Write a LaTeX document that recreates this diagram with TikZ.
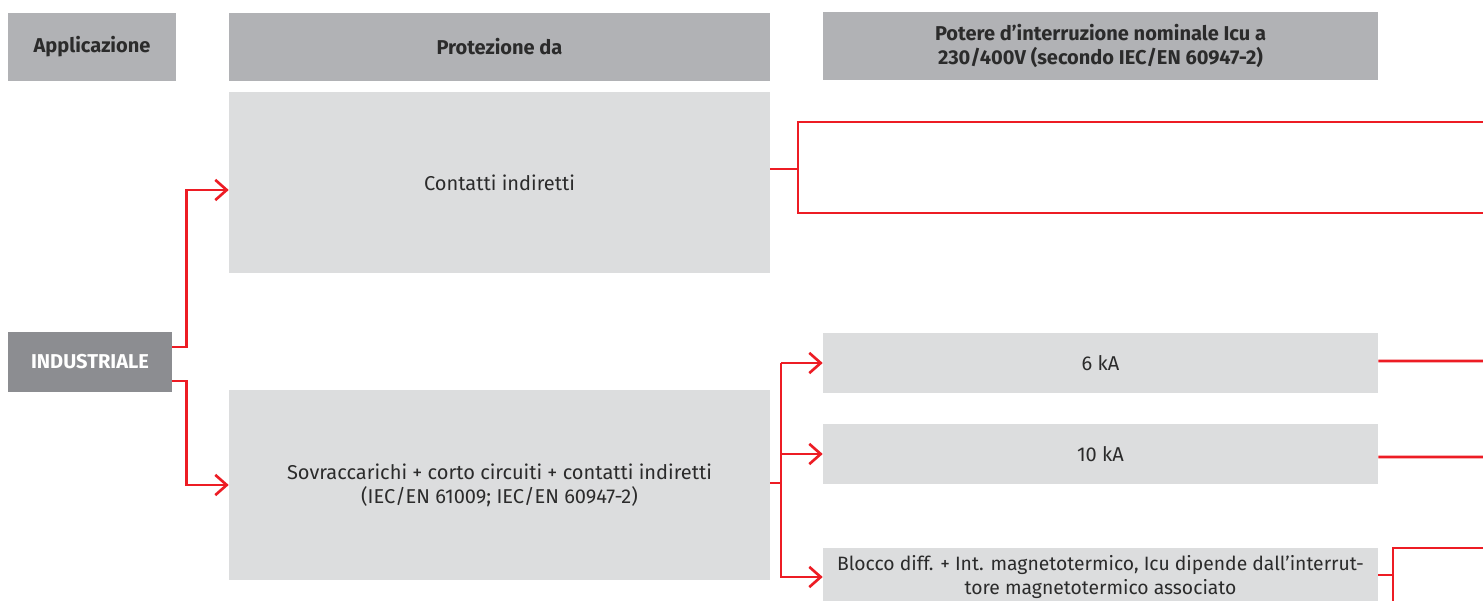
\documentclass[tikz,border=0pt]{standalone}
\usepackage{fontspec}
\setmainfont{Fira Sans}
\usetikzlibrary{arrows.meta,positioning}
\definecolor{headgray}{HTML}{B1B2B5}
\definecolor{boxgray}{HTML}{DCDDDE}
\definecolor{appgray}{HTML}{8C8D91}
\definecolor{abbred}{HTML}{ED1C24}
\definecolor{txt}{HTML}{2B2B2B}
\tikzset{
    head/.style={
    rectangle,fill=headgray,text=txt,font=\bfseries\fontsize{11.4}{13.2}\selectfont,align=center,inner sep=0pt
    },
    choice/.style={
    rectangle,fill=boxgray,text=txt,font=\fontsize{11.4}{13.6}\selectfont,align=center,inner sep=0pt
    },
    app/.style={
    rectangle,fill=appgray,text=white,font=\bfseries\fontsize{11.4}{13}\selectfont,inner sep=0pt
    },
    flow/.style={
    draw=abbred,line width=1.6pt
    },
    flowto/.style={
    flow,-{Straight Barb[length=6.5pt,width=11.5pt,line width=1.5pt]}
    },
}

\begin{document}
\begin{tikzpicture}[x=0.02cm, y=-0.02cm]
   \useasboundingbox[fill=white] (0,0) rectangle (1483,601);
   % headers
   \node[head,minimum width=3.36cm,minimum height=1.36cm] (happ) at (92,47) {Applicazione};
   \node[head,minimum width=10.82cm,minimum height=1.36cm] (hprot) at (499.5,47) {Protezione da};
   \node[head,minimum width=11.1cm,minimum height=1.36cm] (hicu) at (1100.5,46) {Potere d’interruzione nominale Icu a\\230/400V (secondo IEC/EN 60947-2)};

   \node[app,minimum width=3.28cm,minimum height=1.2cm] (ind) at (90,362) {INDUSTRIALE};
   \node[choice,minimum width=10.82cm,minimum height=3.62cm] (cont) at (499.5,182.5) {Contatti indiretti};
   \node[choice,minimum width=10.82cm,minimum height=3.8cm] (sovr) at (499.5,485) {Sovraccarichi + corto circuiti + contatti indiretti\\(IEC/EN 61009; IEC/EN 60947-2)};
   \node[choice,minimum width=11.1cm,minimum height=1.2cm] (six) at (1100.5,363) {6 kA};
   \node[choice,minimum width=11.1cm,minimum height=1.2cm] (ten) at (1100.5,454) {10 kA};
   \node[choice,font=\fontsize{11}{13.6}\selectfont,minimum width=11.1cm,minimum height=1.16cm] (blk) at (1100.5,577) {Blocco diff. + Int. magnetotermico, Icu dipende dall’interrut-\\tore magnetotermico associato};

   % free ends at the right border
   \coordinate (ca) at (1485,122);
   \coordinate (cb) at (1485,213);
   \coordinate (sa) at (1485,361);
   \coordinate (ta) at (1485,457);
   \coordinate (ba) at (1485,548);
   \coordinate (bb) at (1393,603);

   \draw[flowto] ([yshift=0.3cm]ind.east) -- ++(14,0) |- ([yshift=-0.15cm]cont.west);
   \draw[flowto] ([yshift=-0.38cm]ind.east) -- ++(14,0) |- (sovr.west);

   \draw[flow] ([yshift=0.27cm]cont.east) -- ++(29,0);
   \draw[flow] (ca) -| (798,213) -- (cb);

   \draw[flow] ([yshift=0.04cm]sovr.east) -- ++(12,0);
   \draw[flowto] (781,363) -- (six.west);
   \draw[flowto] (781,454) -- (ten.west);
   \draw[flowto] (781,363) |- (blk.west);

   \draw[flow] ([yshift=0.04cm]six.east) -- (sa);
   \draw[flow] ([yshift=-0.06cm]ten.east) -- (ta);
   \draw[flow] ([yshift=0.04cm]blk.east) -- ++(15,0);
   \draw[flow] (ba) -| (bb);
\end{tikzpicture}
\end{document}
